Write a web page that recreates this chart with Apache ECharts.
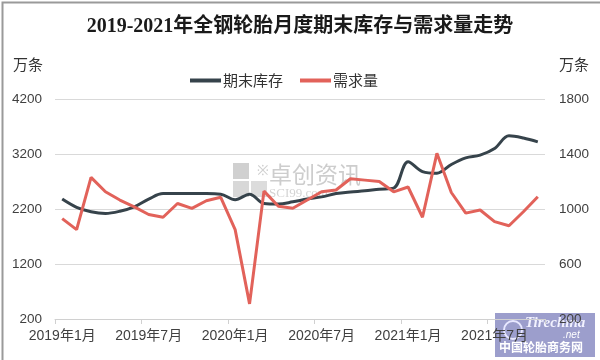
<!DOCTYPE html>
<html>
<head>
<meta charset="utf-8">
<script src="https://cdn.jsdelivr.net/npm/echarts@6/dist/echarts.min.js"></script>
<style>html,body{margin:0;padding:0;background:#fff}#c{width:600px;height:360px}</style>
</head>
<body>
<div id="c"></div>
<script>
var months = ['2019年1月','2019年2月','2019年3月','2019年4月','2019年5月','2019年6月','2019年7月','2019年8月','2019年9月','2019年10月','2019年11月','2019年12月',
  '2020年1月','2020年2月','2020年3月','2020年4月','2020年5月','2020年6月','2020年7月','2020年8月','2020年9月','2020年10月','2020年11月','2020年12月',
  '2021年1月','2021年2月','2021年3月','2021年4月','2021年5月','2021年6月','2021年7月','2021年8月','2021年9月','2021年10月'];
var inventory = [2380,2230,2150,2120,2160,2240,2380,2480,2480,2480,2480,2470,2370,2470,2300,2290,2330,2380,2420,2480,2510,2530,2560,2580,3060,2880,2850,3010,3130,3180,3300,3530,3490,3420];
var demand = [930,850,1230,1125,1065,1015,960,940,1040,1005,1060,1085,850,310,1130,1020,1005,1065,1125,1138,1220,1210,1200,1125,1160,940,1405,1120,970,993,908,878,980,1089];
var leftTicks = {min:200, max:4200, interval:1000};
var rightTicks = {min:200, max:1800, interval:400};
var seriesNames = ['期末库存','需求量'];
var titleText = '2019-2021年全钢轮胎月度期末库存与需求量走势';
var unitText = '万条';

var chart = echarts.init(document.getElementById('c'), null, {renderer:'canvas'});
var lab = {color:'#404040', fontSize:13.5, fontFamily:'Liberation Sans, Noto Sans CJK SC', formatter:function(v){return String(v);}};
chart.setOption({
  animation:false,
  backgroundColor:'#fff',
  title:{text:titleText, left:'center', top:12,
    textStyle:{fontSize:20, fontWeight:'bold', color:'#1a1a1a', fontFamily:'Liberation Serif, Noto Sans CJK SC'}},
  legend:{left:185, top:68, itemWidth:31, itemHeight:4, itemGap:17, icon:'rect',
    textStyle:{fontSize:15, color:'#333', fontFamily:'Noto Sans CJK SC', padding:[0,0,0,-3]},
    data:seriesNames},
  grid:{left:55, right:55, top:99, bottom:41},
  xAxis:{type:'category', data:months, boundaryGap:true,
    axisLine:{lineStyle:{color:'#d0d0d0', width:1}},
    axisTick:{show:true, interval:5, length:5, lineStyle:{color:'#d0d0d0'}},
    axisLabel:{interval:5, margin:10, color:'#404040', fontSize:14, fontFamily:'Liberation Sans, Noto Sans CJK SC'}},
  yAxis:[
    {type:'value', min:leftTicks.min, max:leftTicks.max, interval:leftTicks.interval,
     axisLine:{show:false}, axisTick:{show:false},
     axisLabel:Object.assign({margin:13}, lab),
     splitLine:{lineStyle:{color:'#d9d9d9', width:1}}},
    {type:'value', min:rightTicks.min, max:rightTicks.max, interval:rightTicks.interval,
     axisLine:{show:false}, axisTick:{show:false},
     axisLabel:Object.assign({margin:14}, lab),
     splitLine:{show:false}}
  ],
  graphic:[
    {type:'text', left:13, top:57, z:10, style:{text:unitText, fontSize:15, fill:'#333', fontFamily:'Noto Sans CJK SC'}},
    {type:'text', left:559, top:57, z:10, style:{text:unitText, fontSize:15, fill:'#333', fontFamily:'Noto Sans CJK SC'}},
    {type:'group', left:233, top:163, z:-1, silent:true, children:[
      {type:'rect', shape:{x:0,y:0,width:16,height:16}, style:{fill:'#d0d0d0'}},
      {type:'rect', shape:{x:0,y:18,width:16,height:16}, style:{fill:'#d8d8d8'}},
      {type:'rect', shape:{x:18,y:18,width:16,height:16}, style:{fill:'#dcdcdc'}},
      {type:'text', style:{x:24, y:1, text:'※', fontSize:14, fill:'#cfcfcf'}},
      {type:'text', style:{x:36, y:0, text:'卓创资讯', fontSize:23, fill:'#cdcdcd', fontFamily:'Noto Sans CJK SC'}},
      {type:'text', style:{x:36, y:24, text:'SCI99.com', fontSize:13, fill:'#d4d4d4', fontFamily:'Liberation Serif'}}
    ]},
    {type:'group', left:495, top:313, z:100, silent:true, children:[
      {type:'rect', shape:{x:0,y:0,width:100,height:44}, style:{fill:'rgba(118,120,185,0.72)'}},
      {type:'circle', shape:{cx:18,cy:17,r:9}, style:{fill:'none', stroke:'#e8e8ff', lineWidth:2}},
      {type:'text', style:{x:30, y:3, text:'Tirechina', fontSize:15, fontStyle:'italic', fontWeight:'bold', fill:'#f2f2ff', fontFamily:'Liberation Serif'}},
      {type:'text', style:{x:68, y:17, text:'.net', fontSize:10, fontStyle:'italic', fill:'#ffffff', fontFamily:'Liberation Sans'}},
      {type:'text', style:{x:4, y:28, text:'中国轮胎商务网', fontSize:12, fontWeight:'bold', fill:'#ffffff', fontFamily:'Noto Sans CJK SC'}}
    ]},
    {type:'rect', left:0, top:0, z:200, silent:true, shape:{x:0,y:0,width:599,height:359}, style:{fill:'none', stroke:'#9a9a9a', lineWidth:2}}
  ],
  series:[
    {name:seriesNames[0], type:'line', yAxisIndex:0, data:inventory, smooth:0.35, symbol:'none',
     lineStyle:{color:'#36434b', width:3}, itemStyle:{color:'#36434b'}, z:3},
    {name:seriesNames[1], type:'line', yAxisIndex:1, data:demand, smooth:false, symbol:'none',
     lineStyle:{color:'#e2625a', width:3}, itemStyle:{color:'#e2625a'}, z:4}
  ]
});
</script>
</body>
</html>
